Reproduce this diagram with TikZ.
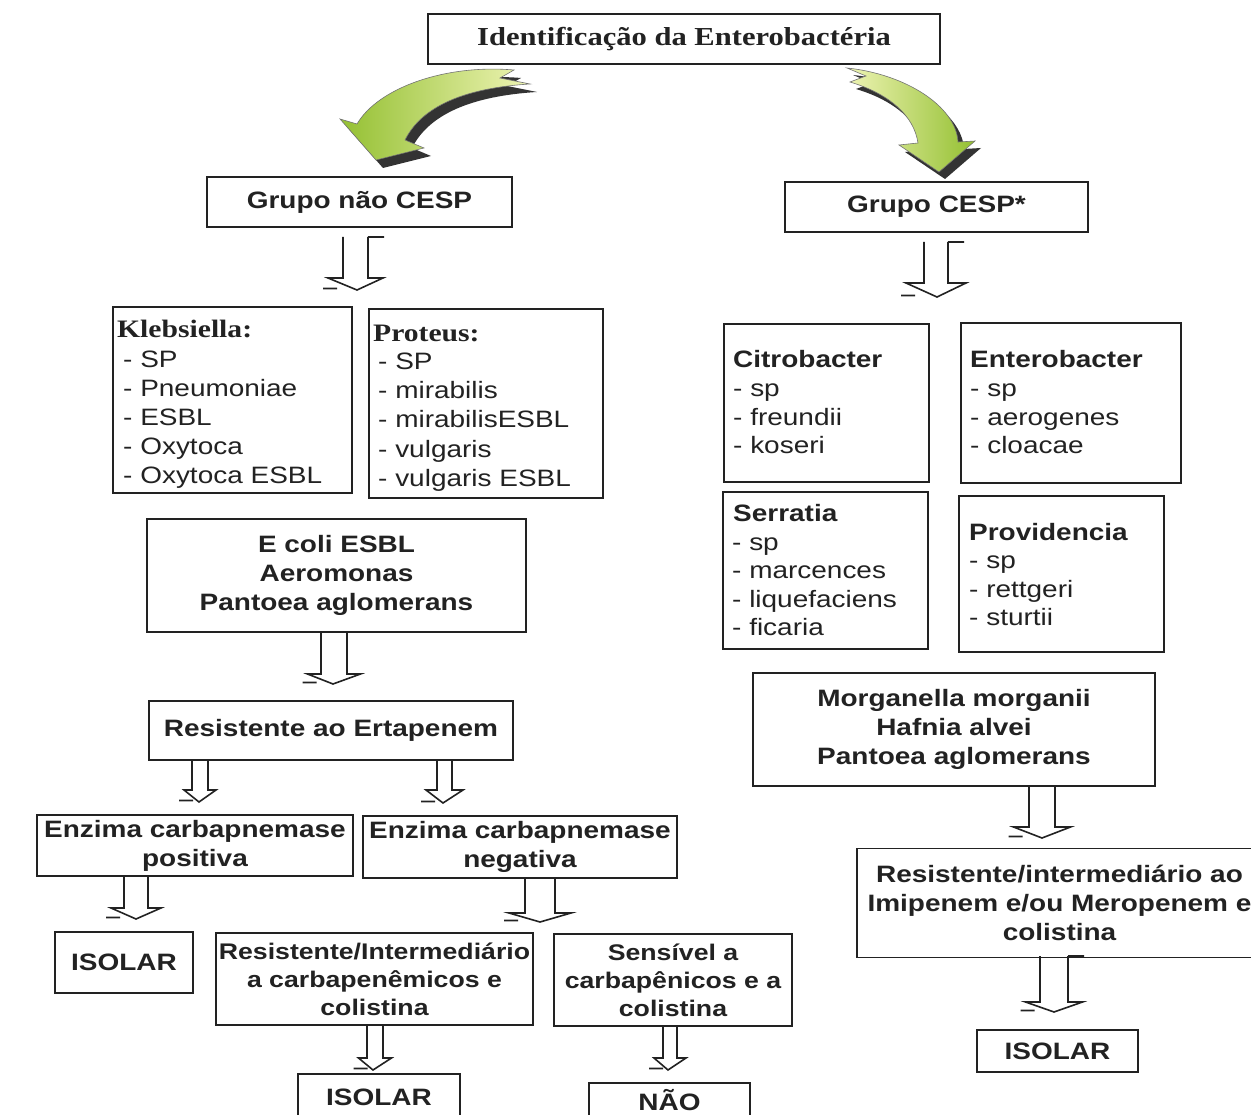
\documentclass[tikz,border=0pt]{standalone}
\usepackage{fontspec}
\newfontfamily\arialf[FakeStretch=1.18]{Liberation Sans}
\newfontfamily\timesf[FakeStretch=1.18]{Liberation Serif}
\usetikzlibrary{calc}
\definecolor{ink}{HTML}{222222}
\definecolor{gA}{HTML}{94C032}
\definecolor{gB}{HTML}{EEF4B4}
\newcommand\bsans{\arialf\bfseries\fontsize{23.7}{29}\selectfont}
\newcommand\bsanss{\arialf\bfseries\fontsize{22.6}{28}\selectfont}
\newcommand\rsans{\arialf\fontsize{23.7}{29}\selectfont}
\newcommand\bser{\timesf\bfseries\fontsize{25.1}{29}\selectfont}
\newcommand\tser{\timesf\bfseries\fontsize{25.9}{31}\selectfont}
\newcommand\blockarrow[5]{%
 \draw[arrowline] let \p1=(#1), \p2=(#2) in
   (\x1-#4pt,\y1) -- (\x1-#4pt,\y2+#3pt) -- (\x1-#5pt,\y2+#3pt) -- (\x2,\y2)
   -- (\x1+#5pt,\y2+#3pt) -- (\x1+#4pt,\y2+#3pt) -- (\x1+#4pt,\y1)
   (\x1+#4pt,\y1) -- (\x1+#4pt+16pt,\y1)
   (\x1-#5pt-5pt,\y2+1.5pt) -- (\x1-#5pt+9pt,\y2+1.5pt);
}
\newcommand\leftgreen[1]{\path[#1] (514,70) .. controls (445,64) and (378,88) .. (357,124)
  -- (340,119) -- (376,160) -- (424,148) -- (405,140)
  .. controls (422,106) and (465,88) .. (530,84) -- (500,78) -- cycle;}
\newcommand\rightgreen[1]{\path[#1] (847,68) .. controls (905,74) and (956,106) .. (958,142)
  -- (975,141) -- (939,172) -- (899,145) -- (918,143)
  .. controls (914,116) and (890,94) .. (850,82) -- (866,76) -- cycle;}
\begin{document}
\begin{tikzpicture}[x=1pt,y=-1pt,
  box/.style={draw=ink, line width=1.4pt, inner sep=0pt, align=center, font=\bsans, text=ink},
  lst/.style={anchor=base west, inner sep=0pt, text=ink, font=\rsans},
  arrowline/.style={draw=ink, line width=1.6pt, line join=miter}]
\useasboundingbox (0,0) rectangle (1251,1115);
\clip (0,0) rectangle (1251,1115);
\fill[white] (0,0) rectangle (1251,1115);

% green curved arrows
\begin{scope}[shift={(7,8)}]\leftgreen{fill=black!80}\end{scope}
\leftgreen{left color=gA, right color=gB, draw=black!55, line width=0.6pt}
\begin{scope}[shift={(6,7)}]\rightgreen{fill=black!80}\end{scope}
\rightgreen{left color=gB, right color=gA, draw=black!55, line width=0.6pt}

% boxes
\node[box, minimum width=512pt, minimum height=50pt, font=\tser] (title) at (684,39) {Identificação da Enterobactéria};
\node[box, minimum width=305pt, minimum height=50pt] (gnc) at (359.5,202) {Grupo não CESP};
\node[box, minimum width=303pt, minimum height=50pt] (gc) at (936.5,207) {Grupo CESP*};
\node[box, minimum width=239pt, minimum height=186pt] (kleb) at (232.5,400) {};
\node[box, minimum width=234pt, minimum height=189pt] (prot) at (486,403.5) {};
\node[box, minimum width=379pt, minimum height=113pt] (ecoli) at (336.5,575.5) {E coli ESBL\\Aeromonas\\Pantoea aglomerans};
\node[box, minimum width=364pt, minimum height=59pt] (erta) at (331,730.5) {Resistente ao Ertapenem};
\node[box, minimum width=316pt, minimum height=61pt] (pos) at (195,845.5) {Enzima carbapnemase\\positiva};
\node[box, minimum width=314pt, minimum height=62pt] (neg) at (520,847) {Enzima carbapnemase\\negativa};
\node[box, minimum width=138pt, minimum height=61pt] (iso1) at (124,962.5) {ISOLAR};
\node[box, minimum width=317pt, minimum height=92pt, font=\bsanss] (resint) at (374.5,979) {Resistente/Intermediário\\a carbapenêmicos e\\colistina};
\node[box, minimum width=238pt, minimum height=92pt, font=\bsanss] (sens) at (673,980) {Sensível a\\carbapênicos e a\\colistina};
\node[box, minimum width=162pt, minimum height=46pt] (iso2) at (379,1097) {ISOLAR};
\node[box, minimum width=161pt, minimum height=34pt] (nao) at (669.5,1100) {NÃO};
\node[box, minimum width=205pt, minimum height=158pt] (cit) at (826.5,403) {};
\node[box, minimum width=220pt, minimum height=160pt] (ent) at (1071,403) {};
\node[box, minimum width=205pt, minimum height=157pt] (ser) at (825.5,570.5) {};
\node[box, minimum width=205pt, minimum height=156pt] (prov) at (1061.5,574) {};
\node[box, minimum width=402pt, minimum height=113pt] (morg) at (954,729.5) {Morganella morganii\\Hafnia alvei\\Pantoea aglomerans};
\node[box, minimum width=405pt, minimum height=109pt] (resr) at (1059.5,903) {Resistente/intermediário ao\\Imipenem e/ou Meropenem e\\colistina};
\node[box, minimum width=161pt, minimum height=42pt] (iso3) at (1057.5,1051) {ISOLAR};

% list texts
\node[lst, font=\bser] (k0) at (117,338) {Klebsiella:};
\node[lst] (k1) at (123,367) {- SP};
\node[lst] (k2) at (123,396) {- Pneumoniae};
\node[lst] (k3) at (123,425) {- ESBL};
\node[lst] (k4) at (123,454) {- Oxytoca};
\node[lst] (k5) at (123,483) {- Oxytoca ESBL};
\node[lst, font=\bser] (p0) at (373,342) {Proteus:};
\node[lst] (p1) at (378,370) {- SP};
\node[lst] (p2) at (378,399) {- mirabilis};
\node[lst] (p3) at (378,428) {- mirabilisESBL};
\node[lst] (p4) at (378,457) {- vulgaris};
\node[lst] (p5) at (378,486) {- vulgaris ESBL};
\node[lst, font=\bsans] (c0) at (733,368) {Citrobacter};
\node[lst] (c1) at (733,396) {- sp};
\node[lst] (c2) at (733,425) {- freundii};
\node[lst] (c3) at (733,453) {- koseri};
\node[lst, font=\bsans] (e0) at (970,368) {Enterobacter};
\node[lst] (e1) at (970,396) {- sp};
\node[lst] (e2) at (970,425) {- aerogenes};
\node[lst] (e3) at (970,453) {- cloacae};
\node[lst, font=\bsans] (s0) at (733,521) {Serratia};
\node[lst] (s1) at (732,550) {- sp};
\node[lst] (s2) at (732,578) {- marcences};
\node[lst] (s3) at (732,607) {- liquefaciens};
\node[lst] (s4) at (732,635) {- ficaria};
\node[lst, font=\bsans] (v0) at (969,540) {Providencia};
\node[lst] (v1) at (969,568) {- sp};
\node[lst] (v2) at (969,597) {- rettgeri};
\node[lst] (v3) at (969,625) {- sturtii};

% block arrows
\coordinate (a1s) at (355.5,237);  \coordinate (a1e) at (357,290);
\coordinate (a2s) at (936,242);    \coordinate (a2e) at (937,297);
\coordinate (a3s) at (334,632);    \coordinate (a3e) at (333,684);
\coordinate (a4s) at (200,760);    \coordinate (a4e) at (199,802);
\coordinate (a5s) at (444.5,760);  \coordinate (a5e) at (443,803);
\coordinate (a6s) at (136,876);    \coordinate (a6e) at (136,919);
\coordinate (a7s) at (540,878);    \coordinate (a7e) at (540,922);
\coordinate (a8s) at (375,1025);   \coordinate (a8e) at (373,1070);
\coordinate (a9s) at (670,1026);   \coordinate (a9e) at (668,1070);
\coordinate (a10s) at (1042,786);  \coordinate (a10e) at (1042,838);
\coordinate (a11s) at (1054,956);  \coordinate (a11e) at (1054,1012);
\blockarrow{a1s}{a1e}{12}{12.5}{27.5}
\blockarrow{a2s}{a2e}{14}{12}{30}
\blockarrow{a3s}{a3e}{10}{13}{26.5}
\blockarrow{a4s}{a4e}{12}{8}{16}
\blockarrow{a5s}{a5e}{13}{7.5}{18.5}
\blockarrow{a6s}{a6e}{11}{12}{25}
\blockarrow{a7s}{a7e}{9}{15}{31}
\blockarrow{a8s}{a8e}{12}{8}{16.5}
\blockarrow{a9s}{a9e}{12}{7}{16}
\blockarrow{a10s}{a10e}{11}{13}{28.5}
\blockarrow{a11s}{a11e}{10}{14}{28.5}
\end{tikzpicture}
\end{document}
